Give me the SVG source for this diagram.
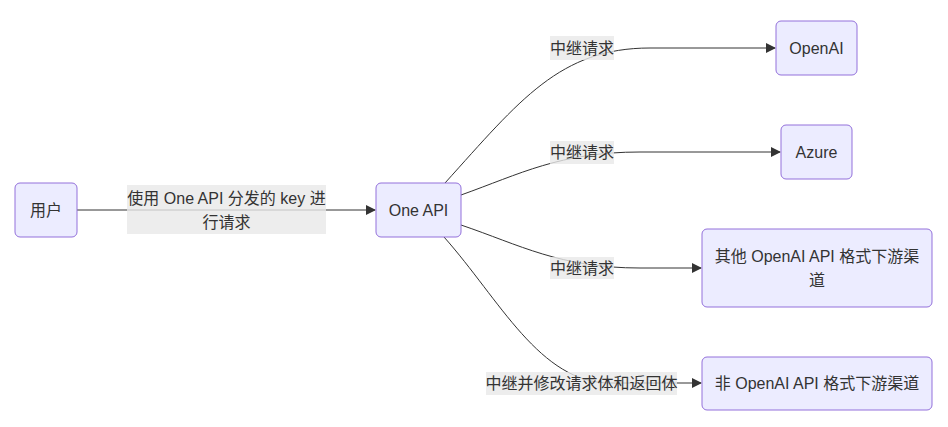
<svg xmlns="http://www.w3.org/2000/svg" width="948" height="427" viewBox="0 0 948 427">
<style>
.node rect{fill:#ECECFF;stroke:#9370DB;stroke-width:1px;}
text{font-family:"Liberation Sans","Noto Sans CJK SC",sans-serif;font-size:16px;fill:#333;text-anchor:middle;dominant-baseline:central;}
.edge{fill:none;stroke:#333;stroke-width:1px;}
.lbl{fill:#e8e8e8;opacity:0.8;}
</style>
<defs>
<marker id="arr" viewBox="0 0 10 10" refX="9" refY="5" markerWidth="10" markerHeight="10" markerUnits="userSpaceOnUse" orient="auto">
<path d="M0,0 L10,5 L0,10 z" fill="#333"/>
</marker>
</defs>
<rect width="948" height="427" fill="#fff"/>
<g id="edges">
<path class="edge" d="M77,210 L375,210" marker-end="url(#arr)"/>
<path class="edge" d="M445,183 C520,100 560,48 650,48 L775,48" marker-end="url(#arr)"/>
<path class="edge" d="M461,195 C520,174 560,152 640,152 L780,152" marker-end="url(#arr)"/>
<path class="edge" d="M461,225 C520,245 560,268 640,268 L701,268" marker-end="url(#arr)"/>
<path class="edge" d="M444,237 C500,300 540,383 610,383 L701,383" marker-end="url(#arr)"/>
</g>
<g id="edge-labels">
<rect class="lbl" x="127" y="185" width="199" height="49"/>
<text x="226.5" y="198">使用 One API 分发的 key 进</text>
<text x="226.5" y="222">行请求</text>
<rect class="lbl" x="550" y="36" width="64" height="24"/>
<text x="582" y="48">中继请求</text>
<rect class="lbl" x="550" y="141" width="64" height="23"/>
<text x="582" y="152">中继请求</text>
<rect class="lbl" x="550" y="257" width="64" height="22"/>
<text x="582" y="268">中继请求</text>
<rect class="lbl" x="486" y="372" width="191" height="23"/>
<text x="581.5" y="383">中继并修改请求体和返回体</text>
</g>
<g id="user" class="node"><rect x="15" y="183" width="62" height="54" rx="5"/><text x="46" y="210">用户</text></g>
<g id="oneapi" class="node"><rect x="376" y="183" width="85" height="54" rx="5"/><text x="418.5" y="210">One API</text></g>
<g id="openai" class="node"><rect x="776" y="21" width="81" height="54" rx="5"/><text x="816.5" y="48">OpenAI</text></g>
<g id="azure" class="node"><rect x="781" y="125" width="71" height="54" rx="5"/><text x="816.5" y="152">Azure</text></g>
<g id="other" class="node"><rect x="702" y="229" width="230" height="78" rx="5"/><text x="817" y="256">其他 OpenAI API 格式下游渠</text><text x="817" y="280">道</text></g>
<g id="nonopenai" class="node"><rect x="702" y="357" width="230" height="53" rx="5"/><text x="817" y="383">非 OpenAI API 格式下游渠道</text></g>
</svg>
